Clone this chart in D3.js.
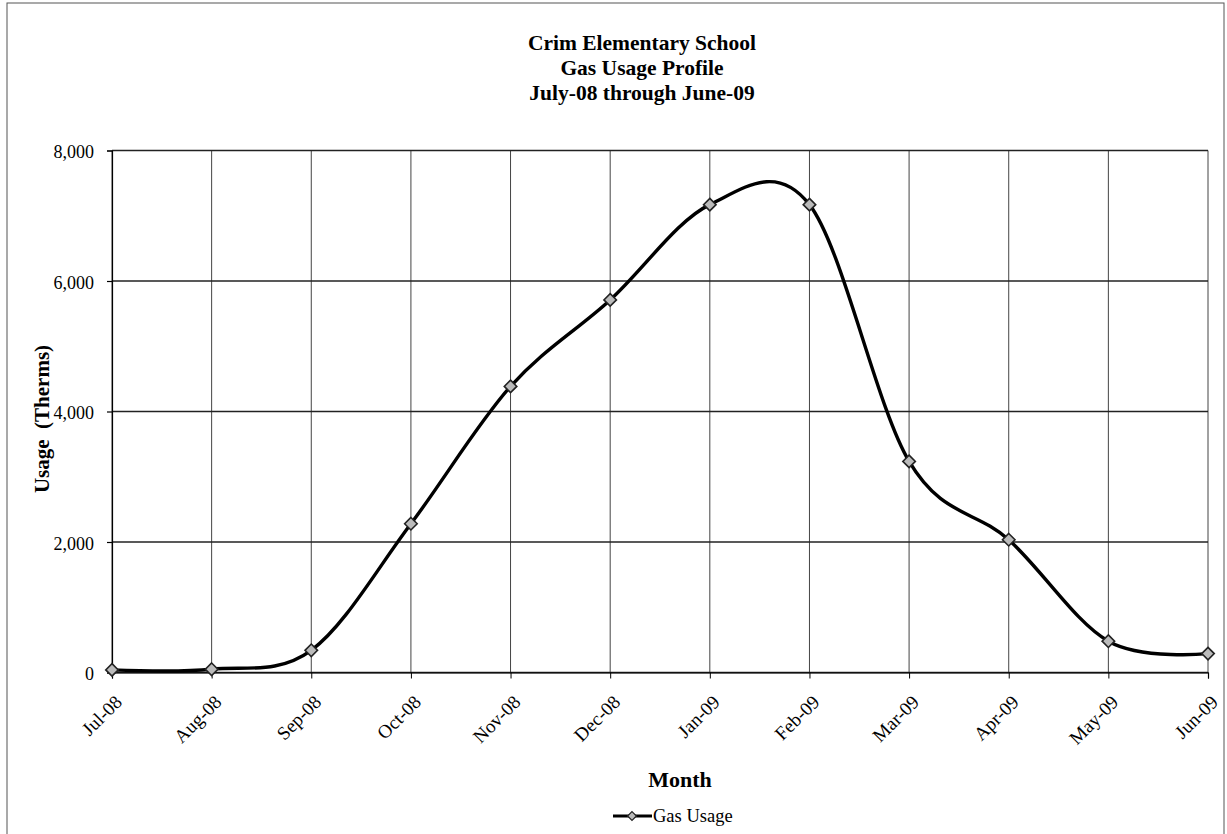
<!DOCTYPE html>
<html><head><meta charset="utf-8">
<script src="https://cdn.jsdelivr.net/npm/d3@7/dist/d3.min.js"></script>
<style>body{margin:0;background:#fff}svg{display:block}</style>
</head><body>
<script>
const months = ["Jul-08","Aug-08","Sep-08","Oct-08","Nov-08","Dec-08","Jan-09","Feb-09","Mar-09","Apr-09","May-09","Jun-09"];
const gasUsage = [40, 50, 340, 2280, 4385, 5710, 7170, 7170, 3235, 2035, 480, 290];
const yTicks = [0, 2000, 4000, 6000, 8000];
const titleLines = ["Crim Elementary School", "Gas Usage Profile", "July-08 through June-09"];

const W = 1227, H = 834;
const svg = d3.select("body").append("svg").attr("width", W).attr("height", H);
const serif = "'Liberation Serif','Times New Roman',serif";

// outer frame
svg.append("rect").attr("x", 7).attr("y", 3).attr("width", 1217).attr("height", 840)
  .attr("fill", "none").attr("stroke", "#555").attr("stroke-width", 1);

const x = d3.scalePoint().domain(months).range([112, 1208]);
const y = d3.scaleLinear().domain([0, 8000]).range([672.5, 150.5]);

// gridlines
svg.append("g").selectAll("line").data(months).join("line")
  .attr("x1", d => x(d)).attr("x2", d => x(d)).attr("y1", y(8000)).attr("y2", y(0))
  .attr("stroke", "#444").attr("stroke-width", 1);
svg.append("g").selectAll("line").data(yTicks).join("line")
  .attr("x1", x(months[0])).attr("x2", x(months[months.length-1])).attr("y1", d => y(d)).attr("y2", d => y(d))
  .attr("stroke", "#222").attr("stroke-width", 1.4);

// axes
const yAxis = svg.append("g").attr("transform", `translate(${x(months[0])},0)`)
  .call(d3.axisLeft(y).tickValues(yTicks).tickFormat(d3.format(",")).tickSize(5).tickPadding(13));
yAxis.selectAll("text").attr("font-family", serif).attr("font-size", 18).attr("fill", "#000").attr("dy", "0.4em");
yAxis.selectAll("line,path").attr("stroke", "#000").attr("stroke-width", 1.2);

const xAxis = svg.append("g").attr("transform", `translate(0,${y(0)})`)
  .call(d3.axisBottom(x).tickSize(6).tickPadding(4));
xAxis.select(".domain").attr("stroke", "#000").attr("stroke-width", 1.2);
xAxis.selectAll("line").attr("stroke", "#000");
xAxis.selectAll("text").attr("font-family", serif).attr("font-size", 19).attr("fill", "#000")
  .attr("text-anchor", "end").attr("x", 0).attr("y", 0).attr("dy", "0.35em")
  .attr("transform", "translate(6,26) rotate(-45)");

// line
const line = d3.line().x((d, i) => x(months[i])).y(d => y(d)).curve(d3.curveCardinal.tension(0));
svg.append("path").datum(gasUsage).attr("d", line).attr("fill", "none")
  .attr("stroke", "#000").attr("stroke-width", 3.4);

// markers
const diamond = d3.symbol().type(d3.symbolDiamond2).size(100);
svg.append("g").selectAll("path").data(gasUsage).join("path")
  .attr("d", diamond).attr("transform", (d, i) => `translate(${x(months[i])},${y(d)})`)
  .attr("fill", "#bbb").attr("stroke", "#222").attr("stroke-width", 1.6);

// title
svg.append("g").selectAll("text").data(titleLines).join("text")
  .attr("x", 642).attr("y", (d, i) => 50 + i * 25).attr("text-anchor", "middle")
  .attr("font-family", serif).attr("font-weight", "bold").attr("font-size", 21.5).text(d => d);

// axis titles
svg.append("text").attr("transform", "translate(49,419) rotate(-90)").attr("text-anchor", "middle")
  .attr("font-family", serif).attr("font-weight", "bold").attr("font-size", 21)
  .attr("xml:space", "preserve").text("Usage  (Therms)");
svg.append("text").attr("x", 680).attr("y", 787).attr("text-anchor", "middle")
  .attr("font-family", serif).attr("font-weight", "bold").attr("font-size", 22).text("Month");

// legend
const lg = svg.append("g");
lg.append("line").attr("x1", 613).attr("x2", 652).attr("y1", 816).attr("y2", 816)
  .attr("stroke", "#000").attr("stroke-width", 3);
lg.append("path").attr("d", d3.symbol().type(d3.symbolDiamond2).size(50))
  .attr("transform", "translate(632,816)").attr("fill", "#bbb").attr("stroke", "#222").attr("stroke-width", 1.2);
lg.append("text").attr("x", 653).attr("y", 822).attr("font-family", serif).attr("font-size", 18.5).text("Gas Usage");
</script>
</body></html>
